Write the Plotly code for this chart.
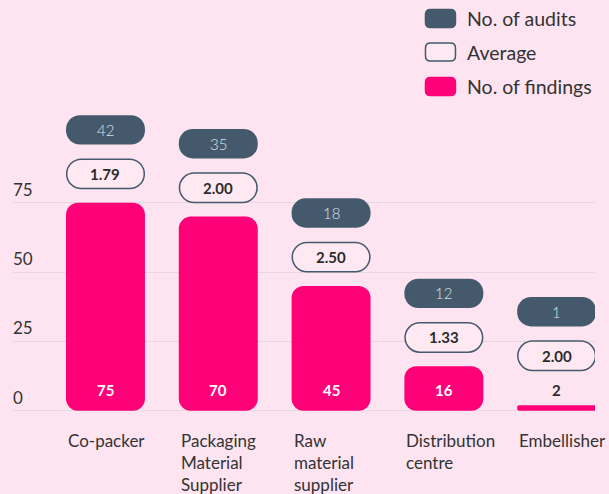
import plotly.graph_objects as go

# ---------------- data ----------------
categories = ["Co-packer", "Packaging<br>Material<br>Supplier", "Raw<br>material<br>supplier",
              "Distribution<br>centre", "Embellisher"]
findings = [75, 70, 45, 16, 2]
audits = [42, 35, 18, 12, 1]
average = [1.79, 2.00, 2.50, 1.33, 2.00]
y_ticks = [0, 25, 50, 75]
legend_labels = ["No. of audits", "Average", "No. of findings"]

# ---------------- style ----------------
BG = "#FDE4F0"
PILL_BG = "#FEE9F3"
PINK = "#FF0078"
SLATE = "#445A6C"
WHITE = "#FFFFFF"
TEXT = "#2B2B2B"
GRID = "#E8D6E0"
FONT = "Lato"

BAR_W = 0.70            # bar width in category units
PILL_H = 10.6           # pill height (value units)
AVG_OFF = 10.4          # offset of average pill centre above bar top
AUD_OFF = 26.3          # offset of audits pill centre above bar top
LABEL_MIN = 10          # below this the value label sits above the bar
LABEL_EXTRA = 7.4       # room taken by an outside label

xs = list(range(len(categories)))
tops = [v + (LABEL_EXTRA if v < LABEL_MIN else 0) for v in findings]
avg_c = [t + AVG_OFF for t in tops]
aud_c = [t + AUD_OFF for t in tops]

fig = go.Figure()

# findings bars
fig.add_trace(go.Bar(
    x=xs, y=findings, base=[0] * len(xs), width=BAR_W, name="No. of findings",
    marker=dict(color=PINK, cornerradius=12, line=dict(width=0)),
    hoverinfo="skip", showlegend=False))
# audits pills
fig.add_trace(go.Bar(
    x=xs, y=[PILL_H] * len(xs), base=[c - PILL_H / 2 for c in aud_c], width=BAR_W,
    name="No. of audits", marker=dict(color=SLATE, cornerradius=15, line=dict(width=0)),
    hoverinfo="skip", showlegend=False))
# average pills
fig.add_trace(go.Bar(
    x=xs, y=[PILL_H] * len(xs), base=[c - PILL_H / 2 for c in avg_c], width=BAR_W - 0.012,
    name="Average", marker=dict(color=PILL_BG, cornerradius=15, line=dict(width=1.5, color=SLATE)),
    hoverinfo="skip", showlegend=False))

ann = []
for i in xs:
    inside = findings[i] >= LABEL_MIN
    ann.append(dict(x=i, y=0, xref="x", yref="y", yshift=21, yanchor="middle",
                    text=f"<b>{findings[i]}</b>", showarrow=False,
                    font=dict(family=FONT, size=15, color=WHITE if inside else TEXT)))
    ann.append(dict(x=i, y=avg_c[i], xref="x", yref="y", yanchor="middle",
                    text=f"<b>{average[i]:.2f}</b>", showarrow=False,
                    font=dict(family=FONT, size=15, color=TEXT)))
    ann.append(dict(x=i, y=aud_c[i], xref="x", yref="y", yanchor="middle",
                    text=f"{audits[i]}", showarrow=False,
                    font=dict(family=FONT, size=15, color="#DCE1E6", weight=300)))
    ann.append(dict(x=i - BAR_W / 2, y=0, xref="x", yref="y", xanchor="left", yanchor="top",
                    yshift=-17, align="left", text=categories[i], showarrow=False,
                    font=dict(family=FONT, size=17, color="#333333")))


def rr_path(w, h, r):
    x0, x1, y0, y1 = -w / 2, w / 2, -h / 2, h / 2
    return (f"M{x0 + r},{y0} L{x1 - r},{y0} Q{x1},{y0} {x1},{y0 + r} "
            f"L{x1},{y1 - r} Q{x1},{y1} {x1 - r},{y1} L{x0 + r},{y1} "
            f"Q{x0},{y1} {x0},{y1 - r} L{x0},{y0 + r} Q{x0},{y0} {x0 + r},{y0} Z")


# manual legend
leg_fill = [SLATE, PILL_BG, PINK]
leg_line = [SLATE, SLATE, PINK]
leg_y = [1.1745, 1.0762, 0.975]
shapes = []
for lab, fc, lc, yy in zip(legend_labels, leg_fill, leg_line, leg_y):
    shapes.append(dict(type="path", xref="paper", yref="paper", xsizemode="pixel", ysizemode="pixel",
                       xanchor=0.7345, yanchor=yy, path=rr_path(30, 18, 5),
                       fillcolor=fc, line=dict(color=lc, width=1.5)))
    ann.append(dict(x=0.777, y=yy, xref="paper", yref="paper", xanchor="left", yanchor="middle",
                    text=lab, showarrow=False, font=dict(family=FONT, size=19.5, color="#333333")))

fig.update_layout(
    width=609, height=494,
    margin=dict(l=13, r=14, t=78, b=75),
    paper_bgcolor=BG, plot_bgcolor=BG,
    barmode="overlay", showlegend=False,
    annotations=ann, shapes=shapes,
    xaxis=dict(range=[-0.82, 4.34], showticklabels=False, showgrid=False, zeroline=False,
               ticks="", fixedrange=True),
    yaxis=dict(range=[-3, 120], tickvals=y_ticks, showgrid=True, gridcolor=GRID, gridwidth=1,
               zeroline=False, ticks="", ticklabelposition="inside", ticklabelshift=-13,
               ticklabelstandoff=-3,
               tickfont=dict(family=FONT, size=17, color="#333333"), fixedrange=True),
)

fig.write_html("out.html", config={"displayModeBar": False},
               post_script="document.body.style.margin='0';document.body.style.background='#FDE4F0';")
